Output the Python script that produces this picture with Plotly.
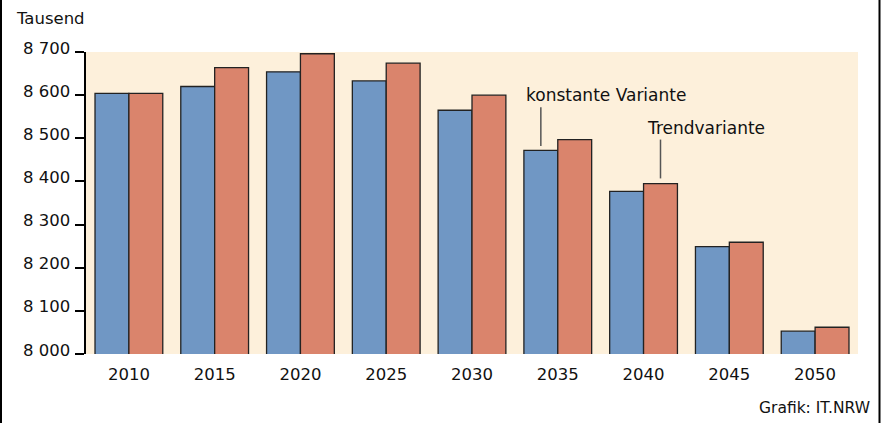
import plotly.graph_objects as go

years = ["2010", "2015", "2020", "2025", "2030", "2035", "2040", "2045", "2050"]
konstant = [8604, 8620, 8654, 8633, 8565, 8472, 8377, 8249, 8053]
trend = [8604, 8664, 8696, 8674, 8600, 8497, 8395, 8259, 8062]
y_ticks = [8000, 8100, 8200, 8300, 8400, 8500, 8600, 8700]
y_ticktext = ["8 000", "8 100", "8 200", "8 300", "8 400", "8 500", "8 600", "8 700"]

W, H = 881, 423
L, R, T, B = 86, 23, 52, 69
PW, PH = W - L - R, H - T - B
BARGAP = 0.21
FONT = "DejaVu Sans"
TXT = "#111111"
blue, red = "#7097C4", "#DA846C"

def px(xp):
    return (xp - L) / PW

def py(yp):
    return (H - B - yp) / PH

fig = go.Figure()
fig.add_bar(x=years, y=konstant, name="konstante Variante", marker=dict(color=blue, line=dict(color="#222222", width=1.3)))
fig.add_bar(x=years, y=trend, name="Trendvariante", marker=dict(color=red, line=dict(color="#222222", width=1.3)))

half = (1 - BARGAP) / 4  # center offset of each bar within its category
i_k = years.index("2035")
i_t = years.index("2040")
fig.add_shape(type="line", xref="x", yref="y", x0=i_k - half, x1=i_k - half,
              y0=konstant[i_k] + 10, y1=konstant[i_k] + 100, line=dict(color="#555555", width=1.5))
fig.add_shape(type="line", xref="x", yref="y", x0=i_t + half, x1=i_t + half,
              y0=trend[i_t] + 12, y1=trend[i_t] + 102, line=dict(color="#555555", width=1.5))
fig.add_annotation(x=i_k - half, y=konstant[i_k] + 100, xref="x", yref="y", text="konstante Variante",
                   showarrow=False, xanchor="left", yanchor="bottom", xshift=-17, yshift=0,
                   font=dict(family=FONT, size=17, color=TXT))
fig.add_annotation(x=i_t + half, y=trend[i_t] + 102, xref="x", yref="y", text="Trendvariante",
                   showarrow=False, xanchor="left", yanchor="bottom", xshift=-16, yshift=0,
                   font=dict(family=FONT, size=17, color=TXT))

# y tick labels (sit slightly above their tick marks, as in the original)
for v, t in zip(y_ticks, y_ticktext):
    fig.add_annotation(x=px(72), y=v, xref="paper", yref="y", text=t, showarrow=False,
                       xanchor="right", yanchor="middle", yshift=4,
                       font=dict(family=FONT, size=16.5, color=TXT))

fig.add_annotation(x=px(14), y=py(18), xref="paper", yref="paper", text="Tausend", showarrow=False,
                   xanchor="left", yanchor="middle", font=dict(family=FONT, size=16.5, color=TXT))
fig.add_annotation(x=px(872), y=py(408), xref="paper", yref="paper", text="Grafik: IT.NRW", showarrow=False,
                   xanchor="right", yanchor="middle", font=dict(family=FONT, size=15.5, color=TXT))

# side frame lines
fig.add_shape(type="line", xref="paper", yref="paper", x0=px(1), x1=px(1), y0=py(0), y1=py(H),
              line=dict(color="black", width=2))
fig.add_shape(type="line", xref="paper", yref="paper", x0=px(879.5), x1=px(879.5), y0=py(0), y1=py(H),
              line=dict(color="black", width=2))

fig.update_layout(
    width=W, height=H, margin=dict(l=L, r=R, t=T, b=B),
    paper_bgcolor="white", plot_bgcolor="#FDF0DB",
    barmode="group", bargap=BARGAP, bargroupgap=0, showlegend=False,
    font=dict(family=FONT, size=16, color=TXT),
)
fig.update_xaxes(showgrid=False, showline=False, ticks="outside", ticklen=5, tickcolor="rgba(0,0,0,0)",
                 tickfont=dict(family=FONT, size=16.5, color=TXT), fixedrange=True)
fig.update_yaxes(range=[8000, 8700], tickvals=y_ticks, showticklabels=False, showgrid=False,
                 showline=True, linecolor="black", linewidth=1.5, ticks="outside", ticklen=9,
                 tickcolor="black", tickwidth=1.5, zeroline=False, fixedrange=True)

fig.write_html("out.html", config={"displayModeBar": False},
               post_script="document.body.style.margin='0';document.body.style.overflow='hidden';")
